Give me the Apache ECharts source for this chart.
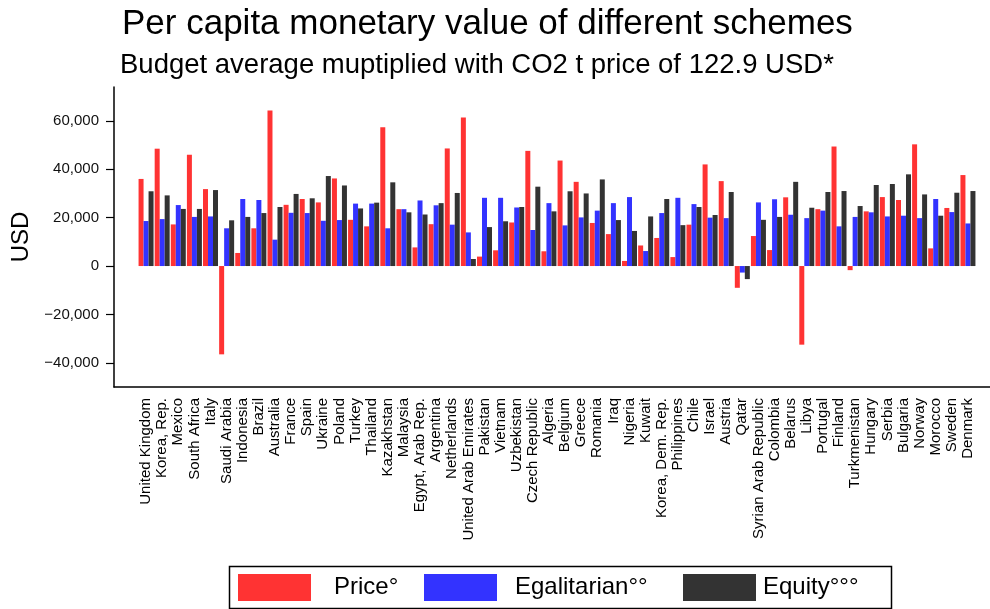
<!DOCTYPE html>
<html>
<head>
<meta charset="utf-8">
<title>Per capita monetary value of different schemes</title>
<script src="https://cdn.jsdelivr.net/npm/echarts@6/dist/echarts.min.js"></script>
<style>
    html, body { margin: 0; padding: 0; background: #fff; }
    #chart { width: 990px; height: 609px; }
</style>
</head>
<body>
<div id="chart"></div>
<script>
// data (USD per capita)
var countries = ['United Kingdom', 'Korea, Rep.', 'Mexico', 'South Africa', 'Italy', 'Saudi Arabia', 'Indonesia', 'Brazil',
    'Australia', 'France', 'Spain', 'Ukraine', 'Poland', 'Turkey', 'Thailand', 'Kazakhstan', 'Malaysia', 'Egypt, Arab Rep.',
    'Argentina', 'Netherlands', 'United Arab Emirates', 'Pakistan', 'Vietnam', 'Uzbekistan', 'Czech Republic', 'Algeria',
    'Belgium', 'Greece', 'Romania', 'Iraq', 'Nigeria', 'Kuwait', 'Korea, Dem. Rep.', 'Philippines', 'Chile', 'Israel',
    'Austria', 'Qatar', 'Syrian Arab Republic', 'Colombia', 'Belarus', 'Libya', 'Portugal', 'Finland', 'Turkmenistan',
    'Hungary', 'Serbia', 'Bulgaria', 'Norway', 'Morocco', 'Sweden', 'Denmark'];

var priceVals = [36000, 48500, 17200, 46000, 31800, -36500, 5400, 15600, 64300, 25300, 27700, 26300, 36200, 19100, 16400,
    57400, 23500, 7700, 17300, 48600, 61400, 3900, 6500, 18000, 47600, 6100, 43600, 34800, 17800, 13200, 2100, 8500, 11600,
    3700, 17100, 42000, 35100, -9000, 12400, 6600, 28400, -32500, 23500, 49400, -1700, 22600, 28500, 27300, 50300, 7300,
    24000, 37600];

var egalVals = [18600, 19400, 25200, 20300, 20500, 15600, 27700, 27300, 10900, 22000, 21900, 18700, 19000, 25800, 25800,
    15600, 23500, 27100, 25100, 17100, 13900, 28200, 28200, 24200, 14900, 26000, 16800, 20100, 22900, 26000, 28500, 6200,
    21900, 28200, 25600, 20000, 19800, -2700, 26300, 27600, 21200, 19800, 22900, 16400, 20300, 22200, 20500, 20800, 19800,
    27700, 22300, 17600];

var equityVals = [30900, 29200, 23600, 23600, 31400, 18900, 20300, 21900, 24400, 29800, 28000, 37200, 33300, 23800, 26200,
    34600, 22200, 21300, 26000, 30200, 2900, 16100, 18500, 24400, 32800, 22600, 30900, 30000, 35800, 19000, 14500, 20500,
    27700, 16900, 24400, 21100, 30600, -5400, 19100, 20300, 34800, 24100, 30600, 31000, 24800, 33500, 33900, 37900, 29600,
    20800, 30300, 31000];

var yTicks = [-40000, -20000, 0, 20000, 40000, 60000];

var seriesNames = ['Price°', 'Egalitarian°°', 'Equity°°°'];
var seriesColors = ['#ff3333', '#3333ff', '#333333'];
// left edge of each legend key and gap between key and its text
var legendLefts = [238, 424, 683];
var legendTextGaps = [18, 13, 2];

var FONT = '"Liberation Sans", Arial, Helvetica, sans-serif';

function fmtUsd(v) {
    var s = Math.abs(v).toString().replace(/\B(?=(\d{3})+(?!\d))/g, ',');
    return v < 0 ? '\u2212' + s : s;
}

function barSeries(idx, vals) {
    return {
        name: seriesNames[idx],
        type: 'bar',
        xAxisIndex: 0,
        yAxisIndex: 0,
        data: vals,
        barWidth: 5,
        barGap: '0%',
        itemStyle: { color: seriesColors[idx] },
        emphasis: { disabled: true }
    };
}

function legendItem(idx) {
    return {
        left: legendLefts[idx],
        top: 574,
        padding: 0,
        icon: 'rect',
        itemWidth: 73,
        itemHeight: 27,
        selectedMode: false,
        textStyle: { fontFamily: FONT, fontSize: 24, color: '#000', padding: [0, 0, 0, legendTextGaps[idx]] },
        data: [seriesNames[idx]]
    };
}

var myChart = echarts.init(document.getElementById('chart'), null, { renderer: 'canvas' });

var option = {
    animation: false,
    textStyle: { fontFamily: FONT },
    title: [
        {
            text: 'Per capita monetary value of different schemes',
            left: 117,
            top: 2,
            textStyle: { fontFamily: FONT, fontSize: 35, fontWeight: 'normal', color: '#000' }
        },
        {
            text: 'Budget average muptiplied with CO2 t price of 122.9 USD*',
            left: 115,
            top: 46,
            textStyle: { fontFamily: FONT, fontSize: 27.5, fontWeight: 'normal', color: '#000' }
        }
    ],
    legend: [legendItem(0), legendItem(1), legendItem(2)],
    graphic: [
        {
            type: 'rect',
            left: 227,
            top: 564,
            shape: { width: 662, height: 42 },
            style: { fill: 'none', stroke: '#000', lineWidth: 1.5 },
            silent: true
        }
    ],
    grid: [
        { left: 138, right: 14, top: 87, bottom: 222 },
        { left: 114, right: 0, top: 87, bottom: 222 }
    ],
    xAxis: [
        {
            type: 'category',
            gridIndex: 0,
            data: countries,
            axisLine: { show: false },
            axisTick: { show: false },
            axisLabel: {
                rotate: 90,
                interval: 0,
                margin: 11,
                fontFamily: FONT,
                fontSize: 15,
                color: '#000'
            }
        },
        {
            type: 'value',
            gridIndex: 1,
            min: 0,
            max: 1,
            axisLine: { show: true, lineStyle: { color: '#000', width: 1.5 } },
            axisTick: { show: false },
            axisLabel: { show: false },
            splitLine: { show: false }
        }
    ],
    yAxis: [
        {
            type: 'value',
            gridIndex: 0,
            min: -50000,
            max: 74000,
            offset: 24,
            name: 'USD',
            nameLocation: 'middle',
            nameRotate: 90,
            nameGap: 69,
            nameTextStyle: { fontFamily: FONT, fontSize: 24, color: '#000' },
            axisLine: { show: true, lineStyle: { color: '#000', width: 1.5 } },
            axisTick: {
                show: true,
                length: 8,
                customValues: yTicks,
                lineStyle: { color: '#000', width: 1.2 }
            },
            axisLabel: {
                margin: 15,
                customValues: yTicks,
                fontFamily: FONT,
                fontSize: 15,
                color: '#111',
                formatter: fmtUsd
            },
            splitLine: { show: false }
        },
        {
            type: 'value',
            gridIndex: 1,
            show: false
        }
    ],
    series: [
        barSeries(0, priceVals),
        barSeries(1, egalVals),
        barSeries(2, equityVals)
    ]
};

myChart.setOption(option);
</script>
</body>
</html>
